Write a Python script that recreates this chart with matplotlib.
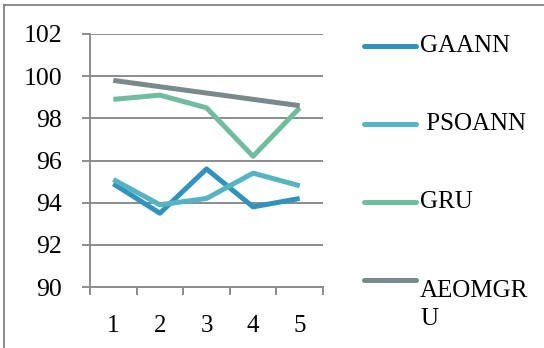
import matplotlib.pyplot as plt
from matplotlib.lines import Line2D
import numpy as np

plt.rcParams['font.family'] = ['Liberation Serif', 'DejaVu Serif']

# accuracy (%) per run
runs = ['1', '2', '3', '4', '5']
gaann = [94.9, 93.5, 95.6, 93.8, 94.2]
psoann = [95.1, 93.9, 94.2, 95.4, 94.8]
gru = [98.9, 99.1, 98.5, 96.2, 98.5]
aeomgru = [99.8, 99.5, 99.2, 98.9, 98.6]

names = ['GAANN', ' PSOANN', 'GRU', 'AEOMGR\nU']
colors = ['#3193bd', '#56b3c1', '#71bca0', '#7a8a8c']
series = [gaann, psoann, gru, aeomgru]

W, H = 544, 348
fig = plt.figure(figsize=(W / 100, H / 100), dpi=100)
ax = fig.add_axes([90 / W, 1 - 287 / H, 233 / W, 253 / H])

x = np.arange(len(runs))
for vals, c in zip(series, colors):
    ax.plot(x, vals, color=c, lw=3.6, solid_joinstyle='round', solid_capstyle='butt', zorder=3)

grid_c = '#8c8c8c'
ax.set_xlim(-0.5, len(runs) - 0.5)
ax.set_ylim(90, 102)
ax.set_yticks(np.arange(90, 103, 2))
ax.yaxis.grid(True, color=grid_c, lw=1.4)
ax.set_axisbelow(True)
for s in ['top', 'right']:
    ax.spines[s].set_visible(False)
for s in ['left', 'bottom']:
    ax.spines[s].set_color(grid_c)
    ax.spines[s].set_linewidth(1.4)

ax.set_xticks(x)
ax.set_xticklabels(runs)
ax.set_xticks(np.arange(-0.5, len(runs)), minor=True)
ax.tick_params(axis='x', which='major', length=0, pad=20, labelsize=18)
ax.tick_params(axis='x', which='minor', length=6, width=1.4, color=grid_c)
ax.tick_params(axis='y', length=6, width=1.4, color=grid_c, pad=14, labelsize=18.5)

# legend drawn by hand so the wrapped label keeps its line on the first row
leg_y = [46, 124, 202, 280]
for name, c, ly in zip(names, colors, leg_y):
    yf = 1 - ly / H
    fig.add_artist(Line2D([364 / W, 416 / W], [yf, yf], color=c, lw=3.6,
                          solid_capstyle='round', transform=fig.transFigure))
    fig.text(420 / W, yf, name, fontsize=18, va='top' if '\n' in name else 'center',
             ha='left', linespacing=1.35)

# outer frame
fig.add_artist(Line2D([4 / W, 4 / W], [0, 1 - 5 / H], color='#777777', lw=1.2,
                      transform=fig.transFigure))
fig.add_artist(Line2D([4 / W, 1], [1 - 5 / H, 1 - 5 / H], color='#777777', lw=1.2,
                      transform=fig.transFigure))

fig.savefig('out.png', dpi=100)
